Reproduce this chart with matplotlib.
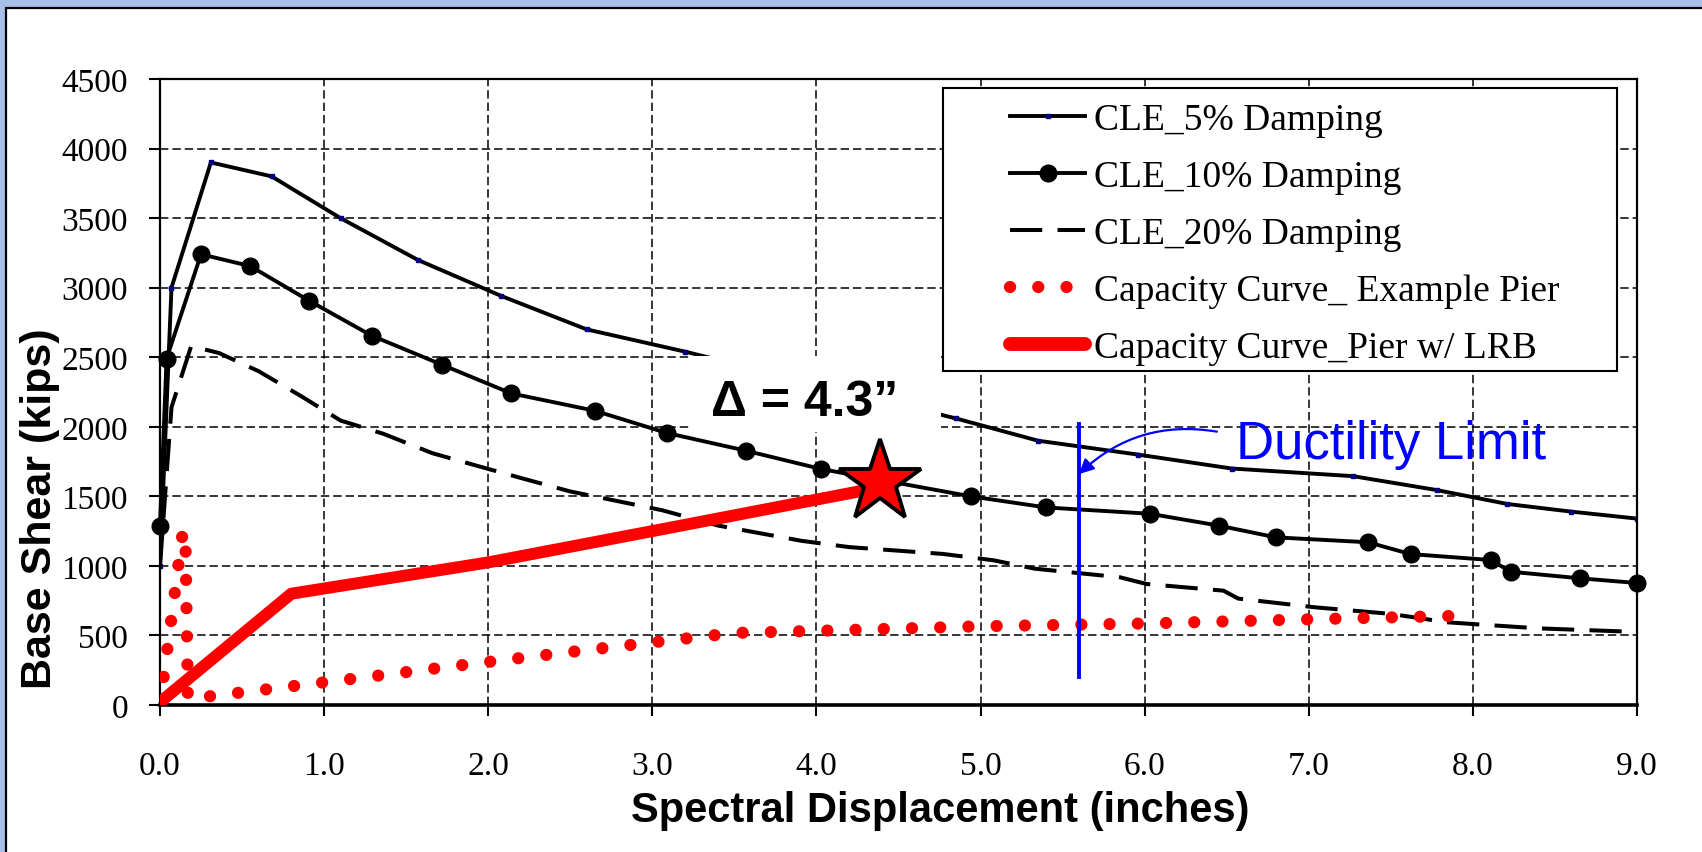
import matplotlib
matplotlib.use("Agg")
from matplotlib import pyplot as plt
from matplotlib.patches import Rectangle

# CLE demand spectra (ADRS): spectral displacement (in) vs base shear (kips)
cle5_x = [0.0, 0.07, 0.31, 0.68, 1.1, 1.57, 2.08, 2.6, 3.2, 4.85, 5.35, 5.96, 6.53, 7.27, 7.78, 8.21, 8.6, 9.0]
cle5_y = [1000, 3000, 3900, 3800, 3500, 3200, 2940, 2700, 2540, 2060, 1900, 1800, 1700, 1645, 1545, 1445, 1390, 1340]

cle10_x = [0.0, 0.04, 0.25, 0.55, 0.91, 1.29, 1.72, 2.14, 2.65, 3.09, 3.57, 4.03, 4.94, 5.4, 6.03, 6.45,
           6.8, 7.36, 7.62, 8.11, 8.23, 8.65, 9.0]
cle10_y = [1290, 2490, 3240, 3155, 2905, 2655, 2445, 2240, 2115, 1955, 1828, 1696, 1500, 1420, 1375, 1290,
           1205, 1170, 1085, 1042, 958, 911, 877]

cle20_x = [0.0, 0.07, 0.19, 0.36, 0.6, 0.86, 1.1, 1.36, 1.66, 1.93, 2.22, 2.5, 2.77, 3.06, 3.4, 3.91, 4.2,
           4.77, 5.08, 5.33, 5.85, 6.01, 6.48, 6.57, 7.04, 7.5, 7.84, 8.0, 8.4, 9.0]
cle20_y = [1000, 2140, 2580, 2530, 2400, 2220, 2045, 1950, 1810, 1720, 1625, 1535, 1470, 1400, 1290, 1180, 1135,
           1086, 1040, 980, 918, 870, 822, 765, 702, 655, 595, 582, 551, 525]

# capacity curves
pier_x = [0.0, 0.14, 0.155, 0.17, 0.25, 1.0, 2.0, 2.6, 3.0, 3.5, 4.0, 5.0, 6.0, 7.0, 7.87]
pier_y = [0, 1255, 1200, 45, 55, 163, 310, 395, 450, 518, 533, 566, 586, 616, 640]

lrb_x = [0.0, 0.8, 2.0, 3.0, 4.39]
lrb_y = [20, 800, 1025, 1250, 1565]

# performance point and ductility limit
star_x, star_y = 4.39, 1600
ductility_x = 5.6
ductility_y = [200, 2020]

labels = ["CLE_5% Damping", "CLE_10% Damping", "CLE_20% Damping",
          "Capacity Curve_ Example Pier", "Capacity Curve_Pier w/ LRB"]

serif = ["Liberation Serif", "DejaVu Serif"]
sans = ["Liberation Sans", "DejaVu Sans"]

fig = plt.figure(figsize=(17.02, 8.53), dpi=100, facecolor="#a8bfe6")
# white panel with dark border (runs off right/bottom edges)
fig.patches.append(Rectangle((6 / 1702, -0.1), 1.2, 1.1 - 9 / 853, transform=fig.transFigure,
                             facecolor="white", edgecolor="black", linewidth=1.6, zorder=-1))

ax = fig.add_axes([160 / 1702, 147 / 853, 1477 / 1702, 626 / 853])
ax.set_zorder(1)
ax.set_facecolor("white")

l5, = ax.plot(cle5_x, cle5_y, color="black", lw=2.8, marker="s", ms=2.2, mfc="#000080", mec="#000080",
              zorder=2, solid_joinstyle="miter")
l10, = ax.plot(cle10_x, cle10_y, color="black", lw=2.8, marker="o", ms=12, zorder=2, clip_on=False)
l20, = ax.plot(cle20_x, cle20_y, color="black", lw=2.9, linestyle=(0, (8, 3.8)), zorder=2)
lp, = ax.plot(pier_x, pier_y, color="red", lw=8.8, linestyle=(0, (0.01, 2.3)),
              dash_capstyle="round", zorder=3)
ll, = ax.plot(lrb_x, lrb_y, color="red", lw=8.6, solid_capstyle="butt", solid_joinstyle="round", zorder=3)
ax.plot([star_x], [star_y], marker="*", ms=62, mfc="red", mec="black", mew=2.8, zorder=6, clip_on=False)

# ductility limit
ax.plot([ductility_x, ductility_x], ductility_y, color="blue", lw=2.8, zorder=5)
ax.annotate("", xy=(ductility_x, 1660), xytext=(6.44, 1965),
            arrowprops=dict(arrowstyle="-|>", color="blue", lw=1.6, mutation_scale=22,
                            shrinkA=0, shrinkB=0, connectionstyle="arc3,rad=0.25"), zorder=5)
ax.text(6.556, 1775, "Ductility Limit", color="blue", fontsize=38, family=sans,
        ha="left", va="baseline", zorder=6)

# displacement annotation in a white box
ax.add_patch(Rectangle((3.24, 1960), 1.52, 550, facecolor="white", edgecolor="none", zorder=3.5))
ax.text(3.355, 2088, "\u0394 = 4.3\u201d", fontsize=36, fontweight="bold", family=sans,
        ha="left", va="baseline", zorder=4)

ax.set_xlim(0, 9)
ax.set_ylim(0, 4500)
ax.set_xticks([i * 1.0 for i in range(10)])
ax.set_xticklabels(["%.1f" % (i * 1.0) for i in range(10)])
ax.set_yticks(range(0, 4501, 500))
ax.set_axisbelow(True)
ax.grid(True, color="black", linestyle=(0, (5.5, 2.6)), linewidth=1.1)
ax.tick_params(axis="both", direction="out", length=8, width=1.5, labelsize=24, colors="black")
ax.tick_params(axis="x", pad=25)
ax.tick_params(axis="y", pad=15)
for t in ax.get_xticklabels() + ax.get_yticklabels():
    t.set_family(serif)
for s in ax.spines.values():
    s.set_linewidth(1.6)
    s.set_color("black")
ax.spines["bottom"].set_linewidth(2.6)

fig.text(940 / 1702, (853 - 822) / 853, "Spectral Displacement (inches)", fontsize=30,
         fontweight="bold", family=sans, ha="center", va="baseline")
fig.text(40 / 1702, (853 - 509) / 853, "Base Shear (kips)", fontsize=31, fontweight="bold",
         family=sans, rotation=90, ha="center", va="center")

# legend with a hand drawn frame
ax.add_patch(Rectangle((0.5301, 0.5335), 0.4564, 0.4516, transform=ax.transAxes,
                       facecolor="white", edgecolor="black", linewidth=1.5, zorder=4.5))
leg = ax.legend([l5, l10, l20, lp, ll], labels, loc="upper left", bbox_to_anchor=(0.5755, 0.962),
                frameon=False, borderpad=0, borderaxespad=0, handlelength=2.0, handletextpad=0.24,
                labelspacing=0.6, prop={"family": serif, "size": 27})
leg.set_zorder(6)
for h in leg.get_lines():
    if h.get_color() == "red" and h.get_linestyle() == "-":
        h.set_solid_capstyle("round")
        h.set_linewidth(10)

fig.savefig("out.png", dpi=100, facecolor=fig.get_facecolor())
